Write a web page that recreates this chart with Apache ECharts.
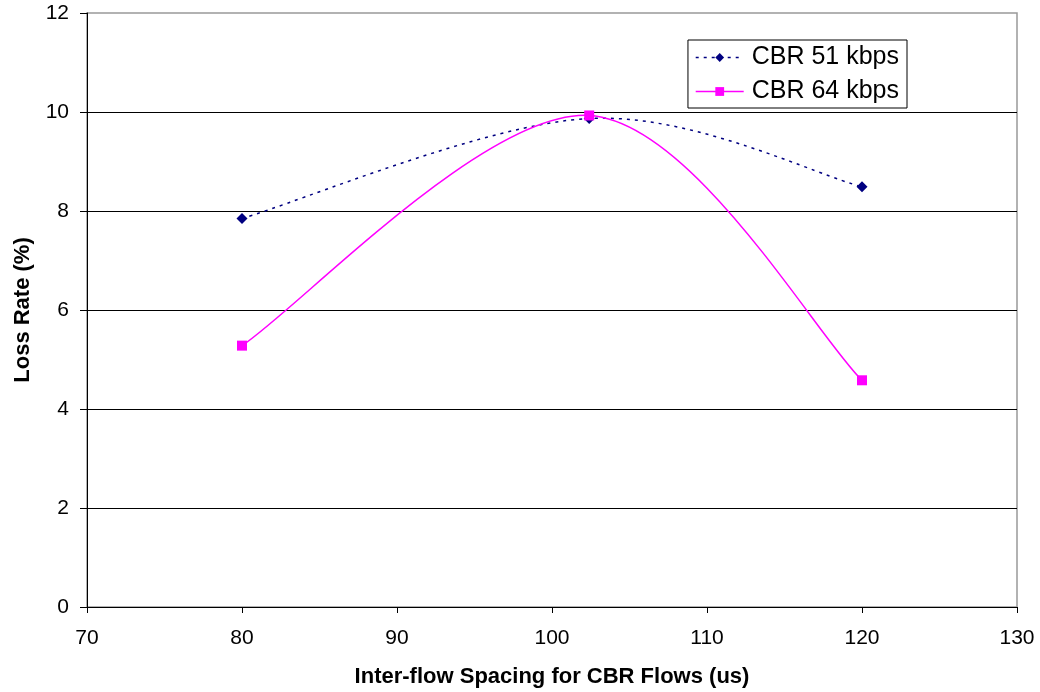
<!DOCTYPE html>
<html>
<head>
<meta charset="utf-8">
<script src="https://cdn.jsdelivr.net/npm/echarts@6/dist/echarts.min.js"></script>
<style>
  html, body { margin: 0; padding: 0; background: #fff; }
  #chart { width: 1040px; height: 692px; }
</style>
</head>
<body>
<div id="chart"></div>
<script>
// spacing values (us)
const spacing = [80, 102.4, 120]
// loss rate (%) per series
const cbr51 = [7.85, 9.87, 8.49]
const cbr64 = [5.28, 9.93, 4.58]

const NAVY = '#000080'
const PINK = '#ff00ff'

const chart = echarts.init(document.getElementById('chart'))

// spreadsheet-style smoothed curve: cubic bezier segments, control points at 1/6 of neighbour chord
function smoothCurve (ys, color, dash) {
  return function (params, api) {
    if (params.dataIndex !== 0) return null
    const pts = spacing.map((x, i) => api.coord([x, ys[i]]))
    let d = 'M' + pts[0][0] + ' ' + pts[0][1]
    for (let i = 0; i < pts.length - 1; i++) {
      const p0 = pts[i - 1] || pts[i]
      const p1 = pts[i]
      const p2 = pts[i + 1]
      const p3 = pts[i + 2] || pts[i + 1]
      const c1x = p1[0] + (p2[0] - p0[0]) / 6
      const c1y = p1[1] + (p2[1] - p0[1]) / 6
      const c2x = p2[0] - (p3[0] - p1[0]) / 6
      const c2y = p2[1] - (p3[1] - p1[1]) / 6
      d += ' C' + c1x + ' ' + c1y + ' ' + c2x + ' ' + c2y + ' ' + p2[0] + ' ' + p2[1]
    }
    return {
      type: 'path',
      shape: { pathData: d },
      style: { fill: null, stroke: color, lineWidth: 1.5, lineDash: dash }
    }
  }
}

const options = {
  animation: false,
  textStyle: { fontFamily: 'Liberation Sans, Arial, sans-serif' },
  grid: {
    left: 87, right: 23, top: 13, bottom: 85,
    outerBoundsMode: 'none',
    containLabel: false,
    show: true, borderColor: '#999', borderWidth: 1.5, backgroundColor: 'transparent'
  },
  legend: {
    right: 133,
    top: 40,
    orient: 'vertical',
    borderColor: '#000',
    borderWidth: 1,
    borderRadius: 0,
    padding: [5, 8, 4, 7],
    itemGap: 9,
    itemWidth: 48,
    itemHeight: 11,
    textStyle: { fontSize: 25, color: '#000', padding: [0, 0, 0, 3] },
    data: [
      { name: 'CBR 51 kbps', lineStyle: { opacity: 1, color: NAVY, width: 1.5, type: [3, 5] } },
      { name: 'CBR 64 kbps', lineStyle: { opacity: 1, color: PINK, width: 1.5 } }
    ]
  },
  xAxis: {
    type: 'value',
    min: 70,
    max: 130,
    interval: 10,
    name: 'Inter-flow Spacing for CBR Flows (us)',
    nameLocation: 'middle',
    nameGap: 59,
    nameMoveOverlap: false,
    nameTextStyle: { fontSize: 22, fontWeight: 'bold', color: '#000' },
    axisLine: { lineStyle: { color: '#000' } },
    axisTick: { length: 6, lineStyle: { color: '#000' } },
    axisLabel: { fontSize: 21, color: '#000', margin: 21 },
    splitLine: { show: false }
  },
  yAxis: {
    type: 'value',
    min: 0,
    max: 12,
    interval: 2,
    name: 'Loss Rate (%)',
    nameLocation: 'middle',
    nameGap: 53,
    nameMoveOverlap: false,
    nameTextStyle: { fontSize: 22, fontWeight: 'bold', color: '#000' },
    axisLine: { show: true, lineStyle: { color: '#000' } },
    axisTick: { show: true, length: 7, lineStyle: { color: '#000' } },
    axisLabel: { fontSize: 21, color: '#000', margin: 18 },
    splitLine: { showMaxLine: false, lineStyle: { color: '#000', width: 1 } }
  },
  series: [
    {
      name: 'CBR 51 kbps',
      type: 'line',
      symbol: 'diamond',
      symbolSize: 11,
      z: 3,
      lineStyle: { color: NAVY, width: 1.5, type: [3, 5], opacity: 0 },
      itemStyle: { color: NAVY },
      data: spacing.map((x, i) => [x, cbr51[i]])
    },
    {
      name: 'CBR 64 kbps',
      type: 'line',
      symbol: 'rect',
      symbolSize: 10,
      z: 3,
      lineStyle: { color: PINK, width: 1.5, opacity: 0 },
      itemStyle: { color: PINK },
      data: spacing.map((x, i) => [x, cbr64[i]])
    },
    {
      name: 'CBR 51 kbps',
      type: 'custom',
      clip: false,
      z: 2,
      renderItem: smoothCurve(cbr51, NAVY, [3, 5]),
      data: spacing.map((x, i) => [x, cbr51[i]])
    },
    {
      name: 'CBR 64 kbps',
      type: 'custom',
      clip: false,
      z: 2,
      renderItem: smoothCurve(cbr64, PINK, null),
      data: spacing.map((x, i) => [x, cbr64[i]])
    }
  ]
}

chart.setOption(options)
</script>
</body>
</html>
